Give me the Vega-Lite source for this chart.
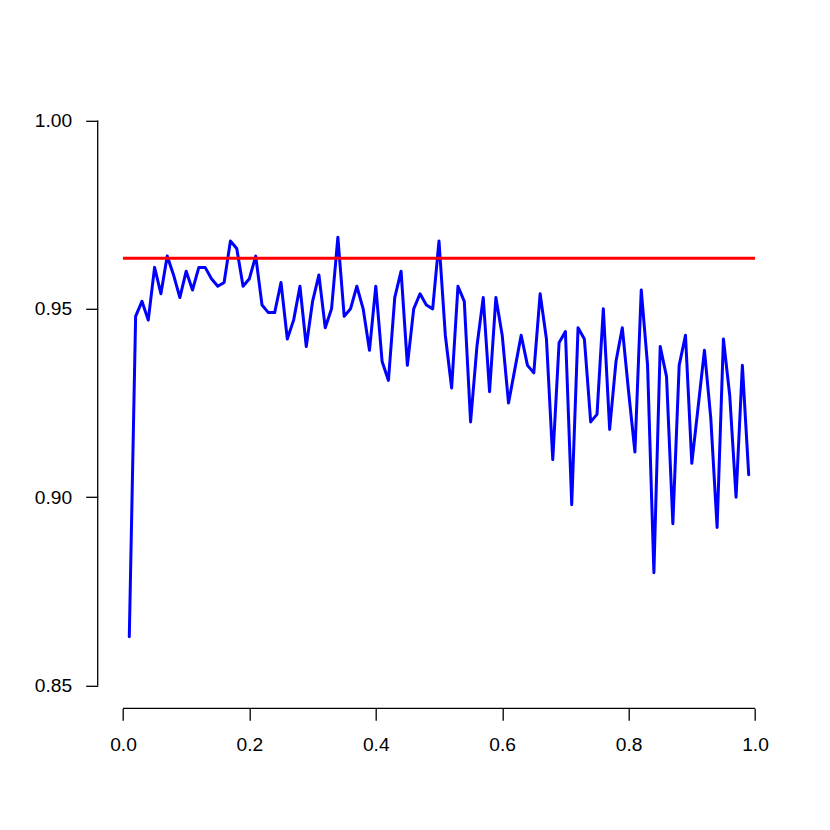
{
  "$schema": "https://vega.github.io/schema/vega-lite/v6.json",
  "autosize": {"type": "none"},
  "padding": {"left": 97.7, "top": 97.8, "right": 49.7, "bottom": 121.7},
  "width": 682.6,
  "height": 610.5,
  "background": "white",
  "config": {
    "view": {"stroke": null},
    "axis": {
      "grid": false,
      "domain": false,
      "tickColor": "black",
      "tickWidth": 1.3,
      "tickSize": 12,
      "labelColor": "black",
      "labelFont": "Liberation Sans",
      "labelFontSize": 19.2,
      "title": null
    }
  },
  "datasets": {
    "acc": [
      {"x": 0.01, "y": 0.863}, {"x": 0.02, "y": 0.948}, {"x": 0.03, "y": 0.952}, {"x": 0.04, "y": 0.947},
      {"x": 0.05, "y": 0.961}, {"x": 0.06, "y": 0.954}, {"x": 0.07, "y": 0.964}, {"x": 0.08, "y": 0.959},
      {"x": 0.09, "y": 0.953}, {"x": 0.10, "y": 0.960}, {"x": 0.11, "y": 0.955}, {"x": 0.12, "y": 0.961},
      {"x": 0.13, "y": 0.961}, {"x": 0.14, "y": 0.958}, {"x": 0.15, "y": 0.956}, {"x": 0.16, "y": 0.957},
      {"x": 0.17, "y": 0.968}, {"x": 0.18, "y": 0.966}, {"x": 0.19, "y": 0.956}, {"x": 0.20, "y": 0.958},
      {"x": 0.21, "y": 0.964}, {"x": 0.22, "y": 0.951}, {"x": 0.23, "y": 0.949}, {"x": 0.24, "y": 0.949},
      {"x": 0.25, "y": 0.957}, {"x": 0.26, "y": 0.942}, {"x": 0.27, "y": 0.947}, {"x": 0.28, "y": 0.956},
      {"x": 0.29, "y": 0.940}, {"x": 0.30, "y": 0.952}, {"x": 0.31, "y": 0.959}, {"x": 0.32, "y": 0.945},
      {"x": 0.33, "y": 0.950}, {"x": 0.34, "y": 0.969}, {"x": 0.35, "y": 0.948}, {"x": 0.36, "y": 0.950},
      {"x": 0.37, "y": 0.956}, {"x": 0.38, "y": 0.950}, {"x": 0.39, "y": 0.939}, {"x": 0.40, "y": 0.956},
      {"x": 0.41, "y": 0.936}, {"x": 0.42, "y": 0.931}, {"x": 0.43, "y": 0.953}, {"x": 0.44, "y": 0.960},
      {"x": 0.45, "y": 0.935}, {"x": 0.46, "y": 0.950}, {"x": 0.47, "y": 0.954}, {"x": 0.48, "y": 0.951},
      {"x": 0.49, "y": 0.950}, {"x": 0.50, "y": 0.968}, {"x": 0.51, "y": 0.943}, {"x": 0.52, "y": 0.929},
      {"x": 0.53, "y": 0.956}, {"x": 0.54, "y": 0.952}, {"x": 0.55, "y": 0.920}, {"x": 0.56, "y": 0.940},
      {"x": 0.57, "y": 0.953}, {"x": 0.58, "y": 0.928}, {"x": 0.59, "y": 0.953}, {"x": 0.60, "y": 0.943},
      {"x": 0.61, "y": 0.925}, {"x": 0.62, "y": 0.934}, {"x": 0.63, "y": 0.943}, {"x": 0.64, "y": 0.935},
      {"x": 0.65, "y": 0.933}, {"x": 0.66, "y": 0.954}, {"x": 0.67, "y": 0.942}, {"x": 0.68, "y": 0.910},
      {"x": 0.69, "y": 0.941}, {"x": 0.70, "y": 0.944}, {"x": 0.71, "y": 0.898}, {"x": 0.72, "y": 0.945},
      {"x": 0.73, "y": 0.942}, {"x": 0.74, "y": 0.920}, {"x": 0.75, "y": 0.922}, {"x": 0.76, "y": 0.950},
      {"x": 0.77, "y": 0.918}, {"x": 0.78, "y": 0.936}, {"x": 0.79, "y": 0.945}, {"x": 0.80, "y": 0.928},
      {"x": 0.81, "y": 0.912}, {"x": 0.82, "y": 0.955}, {"x": 0.83, "y": 0.935}, {"x": 0.84, "y": 0.880},
      {"x": 0.85, "y": 0.940}, {"x": 0.86, "y": 0.932}, {"x": 0.87, "y": 0.893}, {"x": 0.88, "y": 0.935},
      {"x": 0.89, "y": 0.943}, {"x": 0.90, "y": 0.909}, {"x": 0.91, "y": 0.924}, {"x": 0.92, "y": 0.939},
      {"x": 0.93, "y": 0.921}, {"x": 0.94, "y": 0.892}, {"x": 0.95, "y": 0.942}, {"x": 0.96, "y": 0.927},
      {"x": 0.97, "y": 0.900}, {"x": 0.98, "y": 0.935}, {"x": 0.99, "y": 0.906}
    ],
    "ref": [
      {"x": 0.0, "y": 0.9634}, {"x": 1.0, "y": 0.9634}
    ],
    "xaxis": [
      {"x": 0.0, "x2": 1.0, "y": 0.844}
    ],
    "yaxis": [
      {"x": -0.04, "y": 0.85, "y2": 1.0}
    ]
  },
  "layer": [
    {
      "data": {"name": "acc"},
      "mark": {"type": "line", "color": "#0000FF", "strokeWidth": 3, "strokeJoin": "round", "strokeCap": "round"},
      "encoding": {
        "x": {
          "field": "x", "type": "quantitative",
          "scale": {"domain": [-0.04, 1.04], "nice": false, "zero": false},
          "axis": {"values": [0, 0.2, 0.4, 0.6, 0.8, 1.0], "format": ".1f", "labelPadding": 15, "orient": "bottom"}
        },
        "y": {
          "field": "y", "type": "quantitative",
          "scale": {"domain": [0.844, 1.006], "nice": false, "zero": false},
          "axis": {"values": [0.85, 0.9, 0.95, 1.0], "format": ".2f", "labelPadding": 14, "orient": "left"}
        }
      }
    },
    {
      "data": {"name": "ref"},
      "mark": {"type": "line", "color": "#FF0000", "strokeWidth": 3},
      "encoding": {
        "x": {"field": "x", "type": "quantitative"},
        "y": {"field": "y", "type": "quantitative"}
      }
    },
    {
      "data": {"name": "xaxis"},
      "mark": {"type": "rule", "color": "black", "strokeWidth": 1.3},
      "encoding": {
        "x": {"field": "x", "type": "quantitative"},
        "x2": {"field": "x2"},
        "y": {"field": "y", "type": "quantitative"}
      }
    },
    {
      "data": {"name": "yaxis"},
      "mark": {"type": "rule", "color": "black", "strokeWidth": 1.3},
      "encoding": {
        "x": {"field": "x", "type": "quantitative"},
        "y": {"field": "y", "type": "quantitative"},
        "y2": {"field": "y2"}
      }
    }
  ]
}
